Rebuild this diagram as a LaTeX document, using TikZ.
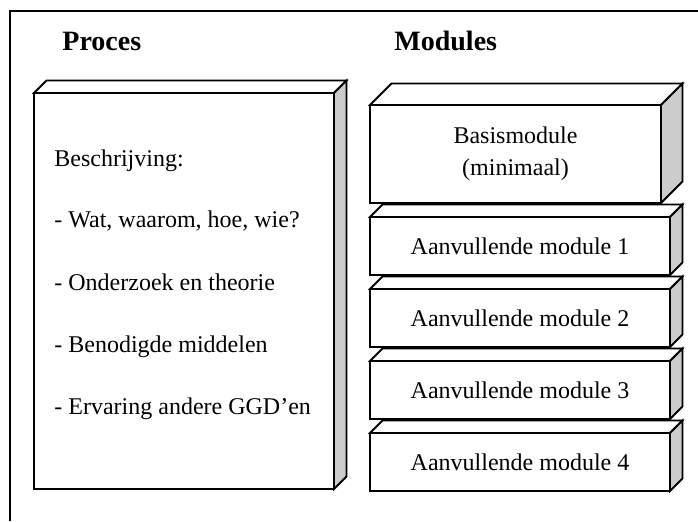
\documentclass[tikz,border=0pt]{standalone}
\usepackage{fontspec}
\setmainfont{Liberation Serif}
\usepackage{tikz}

\begin{document}
\begin{tikzpicture}[x=0.5pt,y=0.5pt,
  blok/.style={draw, fill=white, line width=0.9pt, inner sep=0pt, outer sep=0pt, font=\fontsize{12}{16}\selectfont},
  vlak/.style={draw, fill=white, line width=0.9pt, line join=miter},
  zijkant/.style={draw, fill=black!20, line width=0.9pt, line join=miter},
  kop/.style={anchor=base west, inner sep=0pt, font=\fontsize{14}{16}\selectfont\bfseries},
  regel/.style={anchor=base west, inner sep=0pt, font=\fontsize{12}{14}\selectfont}]
\useasboundingbox (0,0) rectangle (698,521);
% outer frame
\draw [line width=0.9pt] (698,510) -- (10,510) -- (10,0);
\node [kop] (proces) at (62,470) {Proces};
\node [kop] (modules) at (394,470) {Modules};
% proces box
\node [blok, anchor=north west, minimum width=150pt, minimum height=198pt] (procesbox) at (34,428) {};
\draw [vlak] (procesbox.north west) -- ++(12.5,12.5) -- ([shift={(12.5,12.5)}]procesbox.north east) -- (procesbox.north east) -- cycle;
\draw [zijkant] (procesbox.north east) -- ++(12.5,12.5) -- ([shift={(12.5,12.5)}]procesbox.south east) -- (procesbox.south east) -- cycle;
\node [regel] (beschr) at (54,355) {Beschrijving:};
\node [regel] (wat) at (54,293) {- Wat, waarom, hoe, wie?};
\node [regel] (onderzoek) at (54,231) {- Onderzoek en theorie};
\node [regel] (middelen) at (54,169) {- Benodigde middelen};
\node [regel] (ervaring) at (54,107) {- Ervaring andere GGD'en};
% basismodule
\node [blok, anchor=north west, minimum width=145.5pt, minimum height=49pt, align=center] (basis) at (370,416) {Basismodule\\(minimaal)};
\draw [vlak] (basis.north west) -- ++(21.5,21.5) -- ([shift={(21.5,21.5)}]basis.north east) -- (basis.north east) -- cycle;
\draw [zijkant] (basis.north east) -- ++(21.5,21.5) -- ([shift={(21.5,21.5)}]basis.south east) -- (basis.south east) -- cycle;
% aanvullende modules
\node [blok, anchor=north west, minimum width=150pt, minimum height=29pt] (aanv1) at (370,304) {Aanvullende module 1};
\draw [vlak] (aanv1.north west) -- ++(12.5,12.5) -- ([shift={(12.5,12.5)}]aanv1.north east) -- (aanv1.north east) -- cycle;
\draw [zijkant] (aanv1.north east) -- ++(12.5,12.5) -- ([shift={(12.5,12.5)}]aanv1.south east) -- (aanv1.south east) -- cycle;
\node [blok, anchor=north west, minimum width=150pt, minimum height=29pt] (aanv2) at (370,232) {Aanvullende module 2};
\draw [vlak] (aanv2.north west) -- ++(12.5,12.5) -- ([shift={(12.5,12.5)}]aanv2.north east) -- (aanv2.north east) -- cycle;
\draw [zijkant] (aanv2.north east) -- ++(12.5,12.5) -- ([shift={(12.5,12.5)}]aanv2.south east) -- (aanv2.south east) -- cycle;
\node [blok, anchor=north west, minimum width=150pt, minimum height=29pt] (aanv3) at (370,160) {Aanvullende module 3};
\draw [vlak] (aanv3.north west) -- ++(12.5,12.5) -- ([shift={(12.5,12.5)}]aanv3.north east) -- (aanv3.north east) -- cycle;
\draw [zijkant] (aanv3.north east) -- ++(12.5,12.5) -- ([shift={(12.5,12.5)}]aanv3.south east) -- (aanv3.south east) -- cycle;
\node [blok, anchor=north west, minimum width=150pt, minimum height=29pt] (aanv4) at (370,88) {Aanvullende module 4};
\draw [vlak] (aanv4.north west) -- ++(12.5,12.5) -- ([shift={(12.5,12.5)}]aanv4.north east) -- (aanv4.north east) -- cycle;
\draw [zijkant] (aanv4.north east) -- ++(12.5,12.5) -- ([shift={(12.5,12.5)}]aanv4.south east) -- (aanv4.south east) -- cycle;
\end{tikzpicture}
\end{document}
